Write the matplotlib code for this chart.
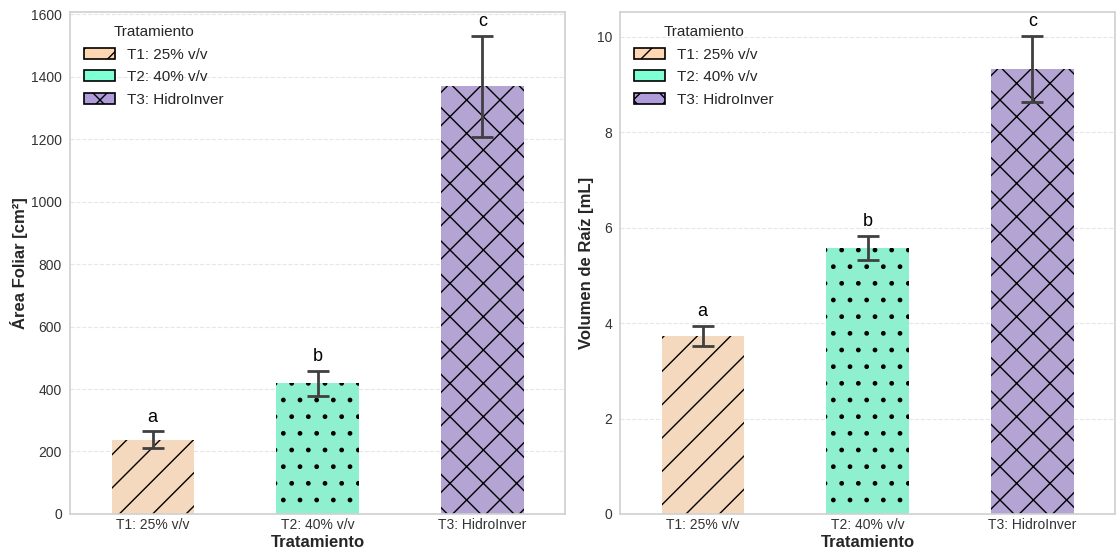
#! /usr/bin/env python3

# Imports
import matplotlib
matplotlib.use("Agg")
import matplotlib.pyplot as plt
from matplotlib.patches import Patch
import numpy as np


# Data
tratamientos = ["T1: 25% v/v", "T2: 40% v/v", "T3: HidroInver"]
letras = ["a", "b", "c"]

area_media = [238, 418, 1370]
area_err = [27, 40, 162]

raiz_media = [3.74, 5.58, 9.33]
raiz_err = [0.21, 0.25, 0.70]

# Style
colores_barra = ["#F5D9BE", "#8FF0D0", "#B3A4D4"]
colores_leyenda = ["#FFD8B3", "#7FFFD4", "#B09CDA"]
hatches = ["/", ".", "x"]

plt.style.use("seaborn-v0_8-whitegrid")
plt.rcParams["font.family"] = ["Liberation Sans", "DejaVu Sans"]
plt.rcParams["hatch.color"] = "black"
plt.rcParams["hatch.linewidth"] = 1.0


def panel(ax, medias, errores, ylabel):
    x = np.arange(len(tratamientos))
    for i in range(len(x)):
        ax.bar(x[i], medias[i], width=0.5, color=colores_barra[i],
               hatch=hatches[i], edgecolor="black", linewidth=0, zorder=2)
    ax.errorbar(x, medias, yerr=errores, fmt="none", ecolor="#404040",
                elinewidth=2, capsize=8, capthick=2, zorder=3)
    for i in range(len(x)):
        ax.annotate(letras[i], (x[i], medias[i] + errores[i]),
                    xytext=(0, 4), textcoords="offset points",
                    ha="center", va="bottom", fontsize=13, color="black")
    ax.set_xticks(x)
    ax.set_xticklabels(tratamientos, fontsize=10, color="#333333")
    ax.tick_params(axis="y", labelsize=10, labelcolor="#333333", pad=6)
    ax.tick_params(axis="x", pad=3)
    ax.set_xlim(-0.5, 2.5)
    top = max(np.array(medias) + np.array(errores))
    ax.set_ylim(0, top * 1.05)
    ax.set_xlabel("Tratamiento", fontsize=12, fontweight="bold", labelpad=2)
    ax.set_ylabel(ylabel, fontsize=12, fontweight="bold", labelpad=2)
    ax.grid(axis="x", visible=False)
    ax.grid(axis="y", linestyle="--", color="#e6e6e6", linewidth=0.8)
    for s in ax.spines.values():
        s.set_visible(True)
        s.set_color("#d0d0d0")
        s.set_linewidth(1.2)
    handles = [Patch(facecolor=colores_leyenda[i], edgecolor="black",
                     hatch=hatches[i], linewidth=1.2)
               for i in range(len(tratamientos))]
    ax.legend(handles, tratamientos, title="Tratamiento", loc="upper left",
              fontsize=11, title_fontsize=11, frameon=False,
              borderaxespad=0.5, labelspacing=0.55)


# Code
fig, (ax1, ax2) = plt.subplots(1, 2, figsize=(11.16, 5.52), dpi=100)
fig.subplots_adjust(left=0.063, right=0.999, bottom=0.069, top=0.979, wspace=0.112)

panel(ax1, area_media, area_err, "Área Foliar [cm²]")
panel(ax2, raiz_media, raiz_err, "Volumen de Raíz [mL]")

ax1.set_yticks(np.arange(0, 1601, 200))
ax2.set_yticks(np.arange(0, 11, 2))

plt.savefig("out.png", dpi=100)
